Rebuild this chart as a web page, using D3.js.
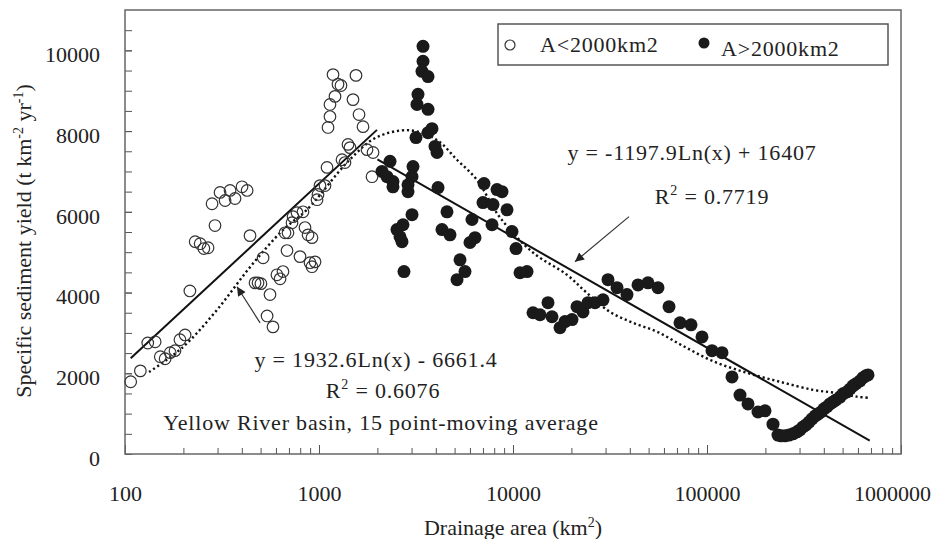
<!DOCTYPE html>
<html>
<head>
<meta charset="utf-8">
<script src="https://cdn.jsdelivr.net/npm/d3@7"></script>
<style>
  body { margin: 0; background: #fff; }
  svg text { font-family: "Liberation Serif", "Times New Roman", serif; fill: #222; }
  .note { letter-spacing: 0.8px; }
</style>
</head>
<body>
<div id="chart"></div>
<script>
// tick labels
const xTicks = [100, 1000, 10000, 100000, 1000000];
const yTicks = [0, 2000, 4000, 6000, 8000, 10000];

// [drainage area km2, specific sediment yield t km-2 yr-1]
const openPts = [
  [107,1790],[120,2060],[131,2750],[143,2780],[152,2410],[161,2360],[171,2510],[181,2560],
  [192,2830],[204,2950],[216,4040],[230,5260],[244,5210],[255,5090],[268,5110],[291,5660],
  [281,6200],[309,6480],[328,6280],[348,6530],[369,6330],[401,6620],[426,6530],[441,5410],
  [468,4240],[485,4240],[502,4220],[515,4860],[540,3420],[559,3950],[579,3150],[607,4440],
  [630,4340],[652,4520],[668,5480],[692,5480],[684,5040],[726,5730],[735,5880],[770,5980],
  [798,4890],[827,6000],[847,5610],[878,5430],[899,4740],[920,5360],[920,4640],[954,4760],
  [977,6300],[988,6430],[1012,6650],[1074,6650],[1100,7100],[1113,8090],[1139,8360],[1139,8660],
  [1181,9400],[1209,8860],[1253,9160],[1298,9130],[1314,7290],[1361,7220],[1411,7670],[1445,7590],
  [1497,8780],[1551,9380],[1608,8410],[1686,8110],[1768,7540],[1899,7470],[1876,6870]
];

const filledPts = [
  [3437,10100],[3437,9730],[3396,9480],[3647,9350],[3238,8910],[3200,8660],[3647,8540],[3823,8060],
  [3647,7960],[3162,7840],[3963,7620],[4058,7470],[2323,7250],[2112,7000],[2241,6870],[2406,6750],
  [2406,6620],[3052,7120],[3016,6870],[2876,6670],[2876,6500],[4107,6600],[3016,5930],[2710,5680],
  [2523,5560],[2616,5380],[2678,5260],[2742,4520],[4568,6000],[4305,5560],[4735,5430],[6146,5810],
  [6370,5360],[6002,5240],[5332,4810],[5657,4520],[5145,4320],[7795,5680],[7088,6700],[8271,6550],
  [7004,6230],[7888,6180],[9314,6050],[8777,6500],[9881,5510],[10363,5090],[10867,4490],[11810,4520],
  [15150,3750],[12680,3500],[13776,3450],[15887,3400],[17470,3130],[18535,3280],[20143,3330],[21380,3650],
  [22954,3520],[24357,3750],[26470,3750],[29100,3820],[30880,4320],[34380,4120],[38690,3950],[44100,4190],
  [49640,4240],[55890,4120],[63710,3650],[72590,3250],[82700,3200],[94230,2900],[106120,2560],[119460,2510],
  [134530,1910],[147960,1460],[162710,1240],[183160,1040],[199070,1070],[218880,740],[232260,470],
  [240700,450],[252500,450],[264700,470],[277500,500],[291000,550],[301600,600],[312500,670],[323800,720],
  [335600,790],[347800,870],[360300,940],[373400,990],[386900,1040],[401000,1120],[415500,1170],[430500,1240],
  [446100,1290],[462200,1340],[485000,1410],[502400,1490],[526700,1540],[546000,1610],[565700,1690],[586100,1740],
  [614800,1810],[637000,1890],[660100,1940],[675900,1960]
];

// 15 point moving average (dotted curve)
const movingAvg = [
  [133,2030],[199,2650],[298,3570],[441,4630],[652,5550],[866,6050],[1445,7300],[1990,7850],
  [2943,8020],[4055,7780],[5140,7290],[6517,6790],[8570,5860],[12680,4990],[18970,4440],[24040,3990],
  [31620,3520],[41560,3250],[55250,3030],[75000,2680],[107400,2300],[160700,2010],[237800,1790],
  [351700,1590],[467800,1510],[592900,1420],[692000,1390]
];

// log trend lines, end points
const trendSmall = [[107,2370],[1990,8030]];
const trendLarge = [[2000,7300],[690000,330]];

// annotation arrows [from, to]
const arrowSmall = [[497,3250],[378,4143]];
const arrowLarge = [[39630,5880],[20870,4764]];

const width = 933, height = 539;
const margin = {top: 10, right: 32, bottom: 85, left: 125};

const x = d3.scaleLog()
  .domain([100, 1000000])
  .range([margin.left, width - margin.right]);

const y = d3.scaleLinear()
  .domain([0, 11000])
  .range([height - margin.bottom, margin.top]);

const svg = d3.select('#chart').append('svg')
  .attr('width', width)
  .attr('height', height);

// axes, ticks pointing inward
const minorX = [];
[100, 1000, 10000, 100000].forEach(d => { for (let k = 2; k < 10; k++) minorX.push(d * k); });

svg.append('g')
  .attr('transform', `translate(0,${y(0)})`)
  .style('color', '#555')
  .call(d3.axisBottom(x).tickValues(minorX).tickSize(-6).tickFormat(''))
  .call(g => g.select('.domain').remove());

svg.append('g')
  .attr('transform', `translate(0,${y(0)})`)
  .style('color', '#555')
  .call(d3.axisBottom(x).tickValues(xTicks).tickSize(-9).tickPadding(31).tickFormat(d3.format('d')))
  .call(g => g.select('.domain').remove())
  .call(g => g.selectAll('text').attr('font-size', 22).attr('font-family', null)
    .attr('dx', d => d === 1000000 ? -9 : 0));

svg.append('g')
  .attr('transform', `translate(${x(100)},0)`)
  .style('color', '#555')
  .call(d3.axisLeft(y).tickValues(d3.range(0, 11000, 500)).tickSize(-7).tickFormat(''))
  .call(g => g.select('.domain').remove());

svg.append('g')
  .attr('transform', `translate(${x(100)},0)`)
  .style('color', '#555')
  .call(d3.axisLeft(y).tickValues(yTicks).tickSize(-7).tickPadding(25).tickFormat(d3.format('d')))
  .call(g => g.select('.domain').remove())
  .call(g => g.selectAll('text').attr('font-size', 22).attr('font-family', null).attr('dy', '0.52em'));

// frame
svg.append('rect')
  .attr('x', x(100))
  .attr('y', y(11000))
  .attr('width', x(1000000) - x(100))
  .attr('height', y(0) - y(11000))
  .attr('fill', 'none')
  .attr('stroke', '#666')
  .attr('stroke-width', 1.5);

// axis titles
const xTitle = svg.append('text')
  .attr('x', (x(100) + x(1000000)) / 2)
  .attr('y', 535)
  .attr('text-anchor', 'middle')
  .attr('font-size', 22);
xTitle.append('tspan').text('Drainage area (km');
xTitle.append('tspan').attr('font-size', 14).attr('dy', -8).text('2');
xTitle.append('tspan').attr('dy', 8).text(')');

const yTitle = svg.append('text')
  .attr('transform', 'translate(31,241) rotate(-90)')
  .attr('text-anchor', 'middle')
  .attr('font-size', 22);
yTitle.append('tspan').text('Specific sediment yield (t km');
yTitle.append('tspan').attr('font-size', 14).attr('dy', -8).text('-2');
yTitle.append('tspan').attr('dy', 8).text(' yr');
yTitle.append('tspan').attr('font-size', 14).attr('dy', -8).text('-1');
yTitle.append('tspan').attr('dy', 8).text(')');

// lines
const line = d3.line().x(d => x(d[0])).y(d => y(d[1]));

svg.append('path')
  .datum(movingAvg)
  .attr('d', line.curve(d3.curveCatmullRom))
  .attr('fill', 'none')
  .attr('stroke', '#111')
  .attr('stroke-width', 2.4)
  .attr('stroke-dasharray', '2.2,2.8');

line.curve(d3.curveLinear);
[trendSmall, trendLarge].forEach(t => {
  svg.append('path')
    .datum(t)
    .attr('d', line)
    .attr('fill', 'none')
    .attr('stroke', '#111')
    .attr('stroke-width', 2);
});

// points
svg.append('g').selectAll('circle')
  .data(openPts)
  .join('circle')
  .attr('cx', d => x(d[0]))
  .attr('cy', d => y(d[1]))
  .attr('r', 5.8)
  .attr('fill', 'none')
  .attr('stroke', '#333')
  .attr('stroke-width', 1.2);

svg.append('g').selectAll('circle')
  .data(filledPts)
  .join('circle')
  .attr('cx', d => x(d[0]))
  .attr('cy', d => y(d[1]))
  .attr('r', 6.5)
  .attr('fill', '#1a1a1a');

// arrows
svg.append('defs').append('marker')
  .attr('id', 'head')
  .attr('viewBox', '0 0 10 10')
  .attr('refX', 10)
  .attr('refY', 5)
  .attr('markerUnits', 'userSpaceOnUse')
  .attr('markerWidth', 12)
  .attr('markerHeight', 9)
  .attr('orient', 'auto')
  .append('path')
  .attr('d', 'M0,0L10,5L0,10Z')
  .attr('fill', '#222');

[arrowSmall, arrowLarge].forEach(a => {
  svg.append('line')
    .attr('x1', x(a[0][0])).attr('y1', y(a[0][1]))
    .attr('x2', x(a[1][0])).attr('y2', y(a[1][1]))
    .attr('stroke', '#333')
    .attr('stroke-width', 1.2)
    .attr('marker-end', 'url(#head)');
});

// annotations
function rSquared(cx, cy, val) {
  const t = svg.append('text').attr('class', 'note').attr('x', cx).attr('y', cy)
    .attr('text-anchor', 'middle').attr('font-size', 22);
  t.append('tspan').text('R');
  t.append('tspan').attr('font-size', 14).attr('dy', -9).text('2');
  t.append('tspan').attr('dy', 9).text(' = ' + val);
}

svg.append('text').attr('class', 'note').attr('x', 692).attr('y', 160).attr('text-anchor', 'middle').attr('font-size', 22)
  .text('y = -1197.9Ln(x) + 16407');
rSquared(712, 204, '0.7719');

svg.append('text').attr('class', 'note').attr('x', 376).attr('y', 367).attr('text-anchor', 'middle').attr('font-size', 22)
  .text('y = 1932.6Ln(x) - 6661.4');
rSquared(383, 398, '0.6076');

svg.append('text').attr('class', 'note').attr('x', 381).attr('y', 430).attr('text-anchor', 'middle').attr('font-size', 22)
  .text('Yellow River basin, 15 point-moving average');

// legend
const legend = svg.append('g');
legend.append('rect')
  .attr('x', 498).attr('y', 24).attr('width', 390).attr('height', 41)
  .attr('fill', '#fff').attr('stroke', '#555').attr('stroke-width', 1.5);
legend.append('circle').attr('cx', 510).attr('cy', 45).attr('r', 5)
  .attr('fill', 'none').attr('stroke', '#333').attr('stroke-width', 1.2);
legend.append('text').attr('class', 'note').attr('x', 540).attr('y', 52).attr('font-size', 22).text('A<2000km2');
legend.append('circle').attr('cx', 704).attr('cy', 43).attr('r', 5.5).attr('fill', '#1a1a1a');
legend.append('text').attr('class', 'note').attr('x', 721).attr('y', 56).attr('font-size', 22).text('A>2000km2');
</script>
</body>
</html>
